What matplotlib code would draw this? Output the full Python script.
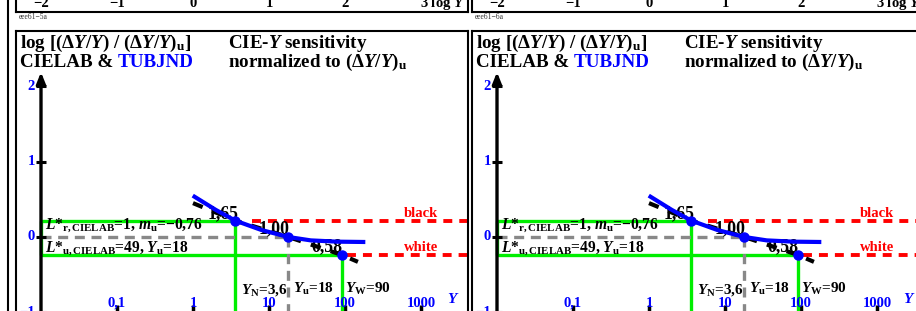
import matplotlib
matplotlib.use('Agg')
import matplotlib.pyplot as plt
import numpy as np
from matplotlib.lines import Line2D

plt.rcParams['font.family'] = ['Liberation Serif', 'DejaVu Serif']
plt.rcParams['font.weight'] = 'bold'
plt.rcParams['mathtext.fontset'] = 'custom'
plt.rcParams['mathtext.rm'] = 'Liberation Serif:bold'
plt.rcParams['mathtext.it'] = 'Liberation Serif:italic:bold'
plt.rcParams['mathtext.bf'] = 'Liberation Serif:bold'

# ---------------- data ----------------
Y_marked = [3.6, 18, 90]                 # Y_N, Y_u, Y_W
ratio_marked = [1.65, 1.00, 0.58]        # (dY/Y)/(dY/Y)_u at these Y
ratio_labels = ['1,65', '1,00', '0,58']
Y_labels = [r'$Y_{\rm N}$=3,6', r'$Y_{\rm u}$=18', r'$Y_{\rm W}$=90']

tub_logY = [0.02, 0.30, 0.556, 0.90, 1.255, 1.55, 1.90, 2.24]        # TUBJND (blue)
tub_logratio = [0.535, 0.36, 0.2175, 0.093, 0.0, -0.045, -0.062, -0.066]
lab_logY = [0.0, 0.556, 1.255, 1.954, 2.17]                          # CIELAB (black dashed)
lab_logratio = [0.45, 0.2175, 0.0, -0.2366, -0.33]

logY_min = -2
x_ticks = [-1, 0, 1, 2, 3]
x_ticklabels = ['0,1', '1', '10', '100', '1000']
y_ticks = [2, 1, 0, -1]
y_ticklabels = ['2', '1', '0', '\u22121']
top_ticks = [-2, -1, 0, 1, 2]
top_ticklabels = ['\u22122', '\u22121', '0', '1', '2']
panel_codes = ['eee61\u22125a', 'eee61\u22126a']
red_start = [0.77, 2.02]
red_words = ['black', 'white']

# ---------------- layout ----------------
W, H = 916, 311
fig = plt.figure(figsize=(W / 100, H / 100), dpi=100)
X0, SX = 193.0, 76.0      # pixel of logY=0, px per decade (left panel)
Y0, SY = 237.0, 75.3
XL = ((16 - X0) / SX, (468 - X0) / SX)
YL = ((Y0 - 311) / SY, (Y0 - 31) / SY)

GREEN = '#00ee00'
TFS = 13.7
lx = np.log10(Y_marked)
ly = np.log10(ratio_marked)


def draw_panel(ax):
    ax.set_xlim(XL)
    ax.set_ylim(YL)
    for s in ['left', 'top', 'right']:
        ax.spines[s].set_linewidth(1.5)
    ax.spines['bottom'].set_visible(False)
    ax.set_yticks([])
    ax.set_xticks(x_ticks)
    ax.set_xticklabels([])
    ax.tick_params(axis='x', direction='in', length=4, width=2.5, color='black')
    ax.patch.set_alpha(0)

    # green construction lines
    gk = dict(color=GREEN, lw=2.4, solid_capstyle='butt', zorder=2)
    ax.plot([logY_min, lx[0]], [ly[0], ly[0]], **gk)
    ax.plot([logY_min, lx[2]], [ly[2], ly[2]], **gk)
    ax.plot([logY_min, logY_min], [ly[2], ly[0]], **gk)
    ax.plot([lx[0], lx[0]], [ly[0], YL[0]], **gk)
    ax.plot([lx[2], lx[2]], [ly[2], YL[0]], **gk)
    # gray dashed reference
    gr = dict(color='#888888', lw=2.4, dashes=(3, 2), zorder=2)
    ax.plot([logY_min, lx[1]], [0, 0], **gr)
    ax.plot([lx[1], lx[1]], [0, YL[0]], **gr)
    # red dashed black/white levels
    for xs, yv, word in zip(red_start, [ly[0], ly[2]], red_words):
        ax.plot([xs, XL[1]], [yv, yv], color='#ff0000', lw=2.8, dashes=(2.3, 1.8), zorder=2)
        ax.text(3.224, yv + 0.05, word, color='#ff0000', fontsize=10.5,
                ha='right', va='baseline', zorder=5)

    # curves
    ax.plot(lab_logY, lab_logratio, color='black', lw=3, dashes=(2.5, 2.5), zorder=3)
    ax.plot(tub_logY, tub_logratio, color='#0000ff', lw=3, zorder=4)
    ax.plot(lx, ly, 'o', color='#0000ff', ms=6.5, zorder=6)

    # y axis with arrow
    ax.annotate('', xy=(logY_min, 2.19), xytext=(logY_min, YL[0]),
                arrowprops=dict(arrowstyle='-|>,head_length=0.55,head_width=0.22',
                                lw=2.4, color='black', shrinkA=0, shrinkB=0,
                                mutation_scale=12), zorder=5)
    ax.plot([logY_min] * len(y_ticks), y_ticks, ls='none', marker='_', ms=7,
            mew=2.2, color='black', zorder=5, clip_on=False)
    for v, t in zip(y_ticks, y_ticklabels):
        ax.text(logY_min - 0.08, v, t, color='#0000ff', fontsize=10.5,
                ha='right', va='center')
    for v, t in zip(x_ticks, x_ticklabels):
        ax.text(v, -0.925, t, color='#0000ff', fontsize=10.5, ha='center', va='baseline')
    ax.text(3.42, -0.88, '$Y$', color='#0000ff', fontsize=11, ha='center', va='baseline')

    # point labels
    for x, y, t in zip([0.19, 0.87, 1.56], [0.248, 0.05, -0.195], ratio_labels):
        ax.text(x, y, t, fontsize=12.8, ha='left', va='baseline', zorder=3.5)
    for x, t in zip([0.63, 1.316, 2.0], Y_labels):
        ax.text(x, -0.744, t, fontsize=11, ha='left', va='baseline')

    ax.text(-1.947, 0.115, '$L$*$_{\\rm r,CIELAB}$=1, $m_{\\rm u}$=\u22120,76',
            fontsize=11.2, ha='left', va='baseline', zorder=5)
    ax.text(-1.947, -0.195, r'$L$*$_{\rm u,CIELAB}$=49, $Y_{\rm u}$=18',
            fontsize=11.2, ha='left', va='baseline', zorder=5)

    # titles
    ax.text(-2.276, 2.51, r'log [(Δ$Y$/$Y$) / (Δ$Y$/$Y$)$_{\rm u}$]', fontsize=TFS,
            ha='left', va='baseline')
    t1 = ax.text(-2.276, 2.264, 'CIELAB &', fontsize=TFS, ha='left', va='baseline')
    ax.annotate('TUBJND', xy=(1, 0), xycoords=t1, xytext=(3.4, 0),
                textcoords='offset points', fontsize=TFS, color='#0000ff',
                ha='left', va='bottom')
    ax.text(0.46, 2.51, 'CIE-$Y$ sensitivity', fontsize=TFS, ha='left', va='baseline')
    ax.text(0.46, 2.264, r'normalized to $(\Delta Y/Y)_{\rm u}$', fontsize=TFS,
            ha='left', va='baseline')


def draw_top(axt):
    axt.set_xlim(XL)
    axt.set_ylim(0, 1)
    axt.set_xticks([])
    axt.set_yticks([])
    axt.spines['top'].set_visible(False)
    for s in ['left', 'right', 'bottom']:
        axt.spines[s].set_linewidth(1.5)
    tr = axt.get_xaxis_transform()
    for v, t in zip(top_ticks, top_ticklabels):
        axt.text(v, 0.125, t, transform=tr, fontsize=10.5, ha='center', va='baseline')
    axt.text(2.99, 0.125, '3 log $Y$', transform=tr, fontsize=10.5, ha='left', va='baseline')


panel_left_px = [16, 472]
for px, code in zip(panel_left_px, panel_codes):
    ax = fig.add_axes([px / W, 0, 452 / W, 280 / H])
    draw_panel(ax)
    axt = fig.add_axes([px / W, 1 - 12 / H, 452 / W, 40 / H])
    draw_top(axt)
    fig.text((px + 3) / W, 1 - 17 / H, code, fontsize=5.5, weight='normal',
             color='#333333', ha='left', va='center')

fig.add_artist(Line2D([7.5 / W] * 2, [0, 1], transform=fig.transFigure,
                      color='black', lw=1.5))

fig.savefig('out.png', dpi=100)
